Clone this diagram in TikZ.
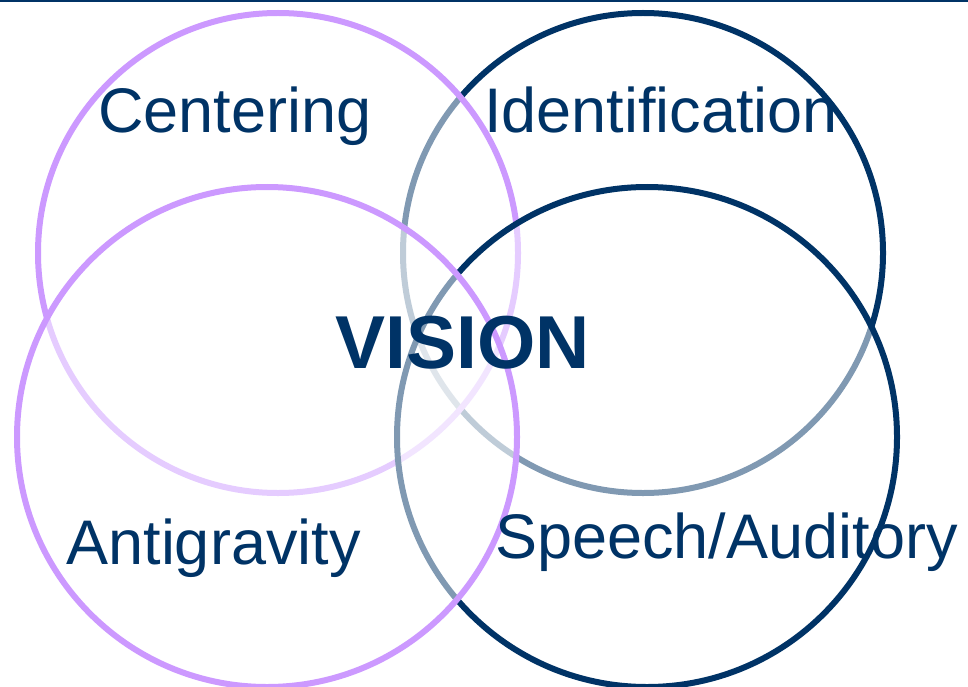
\documentclass[tikz,border=0pt]{standalone}
\usepackage{fontspec}
\setmainfont{Liberation Sans}
\definecolor{navy}{HTML}{003366}
\definecolor{lilac}{HTML}{CC99FF}
\begin{document}
\begin{tikzpicture}[x=1pt,y=-1pt,
  ring/.style={line width=6pt, fill=white, fill opacity=0.5, draw opacity=1},
  lbl/.style={text=navy, inner sep=0pt, anchor=base, font=\fontsize{63}{70}\selectfont},
  big/.style={text=navy, inner sep=0pt, anchor=base, font=\fontsize{75}{80}\selectfont\bfseries}]
\useasboundingbox (0,0) rectangle (968,687);
\draw[navy, line width=2pt] (0,1) -- (968,1);
% circles, in stacking order
\draw[ring, draw=navy]  (643,253) circle[radius=240];
\draw[ring, draw=lilac] (278,253) circle[radius=240];
\draw[ring, draw=navy]  (647,437) circle[radius=250];
\draw[ring, draw=lilac] (267,437) circle[radius=250];
% labels
\node[lbl] (cent) at (235,133) {Centering};
\node[lbl] (iden) at (661,133) {Identification};
\node[lbl] (anti) at (213.5,564) {Antigravity};
\node[lbl] (spee) at (726.5,558) {Speech/Auditory};
\node[big] (vis) at (462.5,368) {VISION};
\end{tikzpicture}
\end{document}
